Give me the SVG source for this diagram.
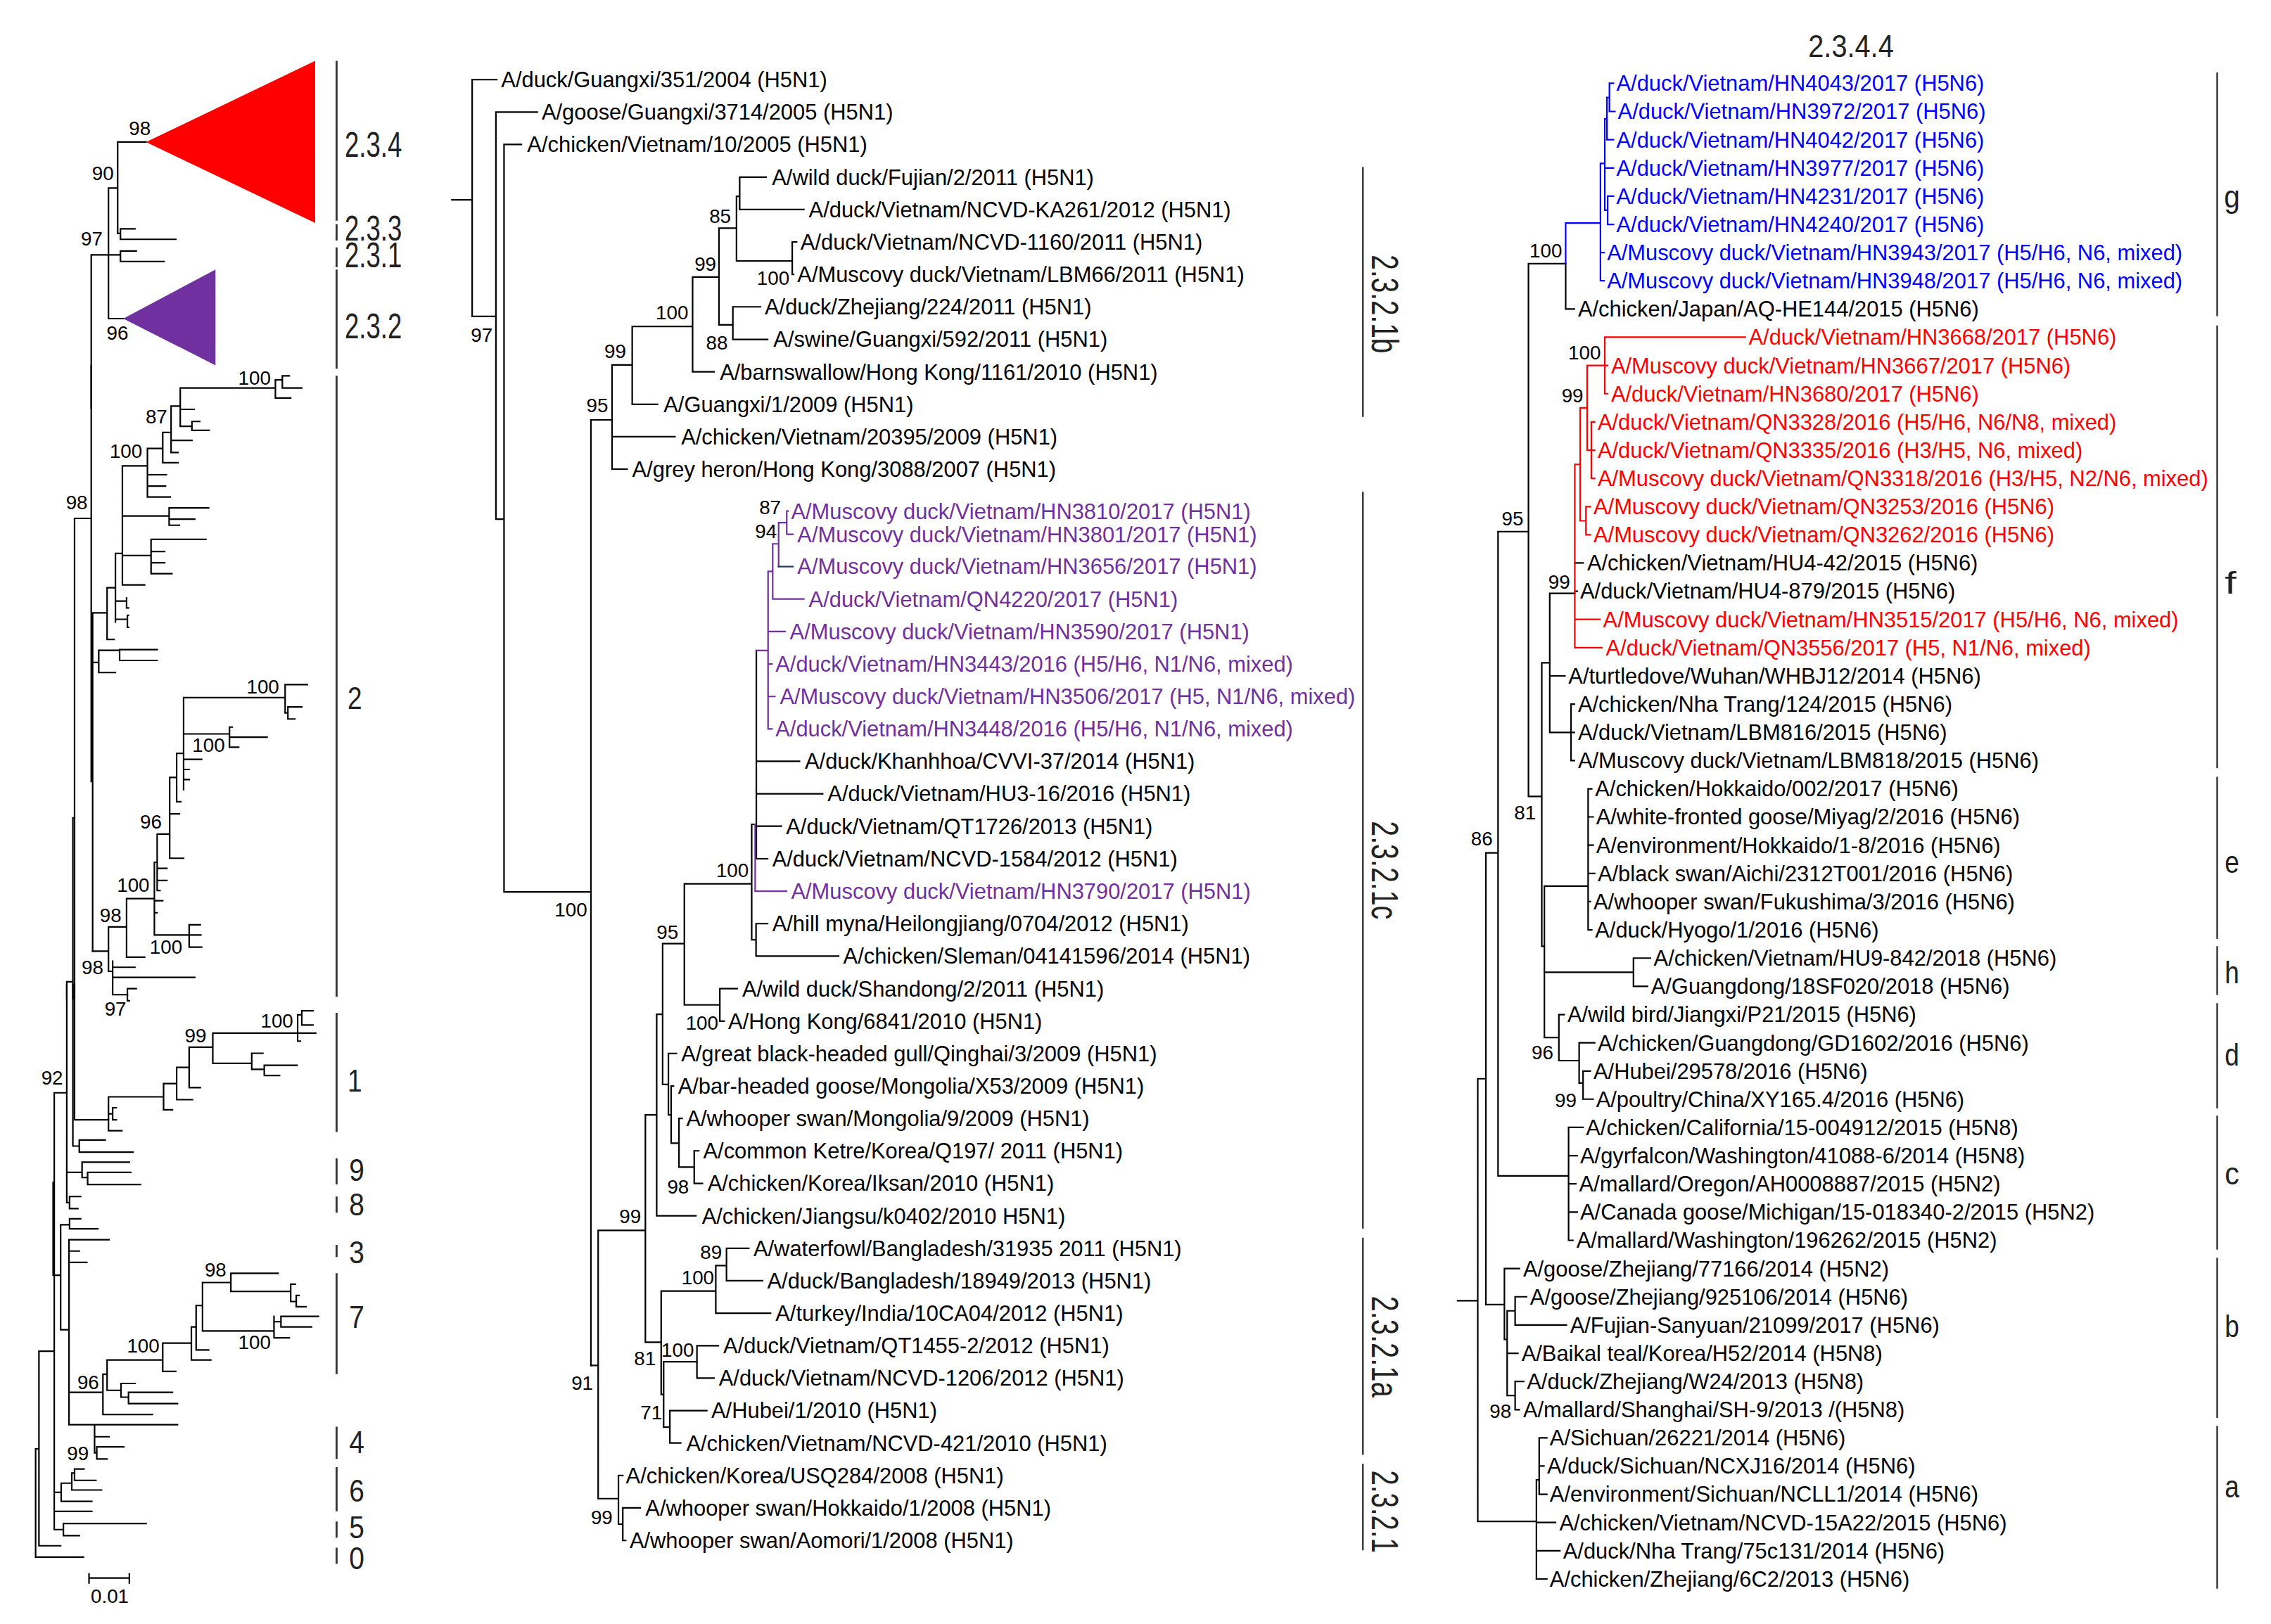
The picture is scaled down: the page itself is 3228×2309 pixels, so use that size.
<svg xmlns="http://www.w3.org/2000/svg" width="3228" height="2309" viewBox="0 0 3228 2309">
<style>
.ln{fill:none;stroke:#000;stroke-width:2.2;vector-effect:non-scaling-stroke;stroke-linecap:square}
.pu{stroke:#7030A0}.bl{stroke:#0000FF}.rd{stroke:#FF0000}.nv{stroke:#1F3864}
.bar{fill:none;stroke:#333;stroke-width:2.8;vector-effect:non-scaling-stroke}
.bar2{fill:none;stroke:#222;stroke-width:2.2;vector-effect:non-scaling-stroke}
text{font-family:"Liberation Sans",Arial,sans-serif;fill:#000}
.lf{font-size:15px}
.lp{fill:#7030A0}.lb{fill:#0000FF}.lr{fill:#FF0000}
.bs{font-size:13.5px;text-anchor:middle}
.cl{font-size:24px;fill:#222}
.cd{font-size:22px;fill:#222}
.cr{font-size:26px;text-anchor:middle;fill:#222}
.cc{font-size:22px;text-anchor:middle;fill:#222}
</style>
<rect width="3228" height="2309" fill="#fff"/>
<g transform="scale(2.0587)">
<g id="connectors">
<polygon points="100.8,98.1 217.6,42 217.6,154" fill="#FF0000"/>
<polygon points="85.1,220 148.8,186.2 148.8,252.3" fill="#7030A0"/>
<g transform="translate(0,29.14) scale(0.19206,0.1611)">
<path class="ln" d="M423 428H525M423 428V820M423 820H433M433 800V845M433 800H485M433 845H632M390 625H423M390 625V1185M328 912H390M390 912H433M433 895V940M433 895H490M433 940H590M390 1185H443M328 912V1568"/>
</g>
<g transform="translate(0,252.6) scale(0.19206,0.2788)">
<path class="ln" d="M328 0V1030M268 378H328M268 378V1568M333 612V1450M333 612H385M385 550V678M385 550H415M385 678H410M415 465V635M415 465H440M440 248V543M440 248H530M530 205V325M530 205H585M585 165V240M585 165H615M585 240H640M615 100V215M615 100H648M615 185H690M615 215H640M648 55V150M648 55H990M990 35V80M990 35H1015M1015 25V55M1015 25H1040M1015 55H1085M990 80H1045M648 108H698M648 150H690M690 138V160M690 138H718M690 160H752M530 270H598M530 298H595M530 325H612M440 372H608M608 352V395M608 352H750M608 380H700M608 395H645M440 470H543M543 430V515M543 430H740M543 460H592M543 488H592M543 515H618M440 543H520M415 583H455M455 575V600M455 600H462M415 628H458M458 618V648M458 618H462M458 648H462M333 735H355M355 705V760M355 705H430M430 703V730M430 703H565M430 730H565M355 760H415"/>
<path class="ln" d="M333 1450H390M390 1390V1500M390 1390H455M455 1320V1465M455 1465H520M455 1320H555M555 1230V1410M555 1230H565M555 1325H585M555 1355H565M555 1410H680M680 1385V1440M680 1385H720M680 1410H722M680 1440H725M565 1160V1300M565 1160H610M565 1245H600M565 1275H600M565 1300H575M610 1020V1220M610 1020H635M635 960V1080M635 960H660M635 1080H650M610 1110H645M610 1220H660M660 822V1050M660 822H1025M1025 790V860M1025 790H1105M1025 860H1035M1035 845V875M1035 845H1085M1035 875H1060M660 912H825M825 895V945M825 895H835M825 920H960M825 945H858M660 975H725M660 1000H680M660 1025H680M390 1500H405M405 1475V1558M405 1490H485M405 1515H700M405 1558H458M262 1120H268M262 1120V1568M240 1526H262M240 1526V1568"/>
</g>
<g transform="translate(0,680) scale(0.19206,0.2788)">
<path class="ln" d="M262 0V400M262 400H285M285 385V415M285 385H378M285 415H478M268 0V335M268 335H390M240 0V540M240 465H295M295 440V478M295 440H465M295 478H315M315 465V495M315 465H470M315 495H505M240 540H250M250 525V555M250 525H290M250 555H280M195 268H240M195 268V1350M191 490V720M195 720H218M218 595V855M218 595H250M250 580V605M250 580H290M250 605H352M218 855H248M248 632V1090M248 632H392M248 660H285M248 688H312M248 1010H370M370 965V1065M370 965H385M385 930V1005M385 930H585M585 888V958M585 958H632M585 888H688M688 848V930M688 930H758M688 848H705M705 795V905M705 905H750M705 795H728M728 738V858M728 738H830M830 715V760M830 715H1000M830 760H1045M1045 742V785M1045 742H1062M1045 785H1065M1065 770V798M1065 770H1075M1065 798H1100M728 858H985M985 822V875M985 835H1010M1010 822V848M1010 822H1145M1010 848H1120M985 875H1040M385 1005H435M435 988V1022M435 988H485M435 1022H462M462 1010V1038M462 1010H620M462 1038H638M370 1065H548M248 1090H340M340 1090V1160M340 1090H638M340 1120H392M340 1160H348M348 1145V1175M348 1145H445M348 1175H385M195 1258H220M220 1235V1280M220 1280H330M220 1235H258M258 1210V1252M258 1252H365M258 1210H268M268 1200V1228M268 1200H302M268 1228H345M195 1305H330M195 1350H228M228 1335V1365M228 1335H525M228 1365H285M140 908H195M140 908V1390M140 1390H218M128 1150H140M128 1150V1418M128 1418H300M458 10V40M458 10H490M458 40H465"/>
<path class="ln" d="M390 278V362M390 278H588M390 362H438M390 320H405M405 305V335M405 305H418M405 335H418M588 245V310M588 310H620M588 245H635M635 205V285M635 285H692M635 205H680M680 155V255M680 255H720M680 155H765M765 120V195M765 120H1070M1070 75V140M1070 75H1085M1085 65V100M1085 65H1125M1085 100H1125M1070 120H1135M1070 140H1080M765 195H905M905 170V210M905 170H945M905 210H950M950 200V225M950 200H1068M950 225H1005"/>
<path class="ln" d="M320 1470H465M320 1460V1482M465 1460V1482"/>
</g>
<path class="ln" d="M312 138H326M326 55V218.5M326 55H343M326 218.5H342.4M342.4 77.4V358.5M342.4 77.4H371M342.4 358.5H348M348 99.8V616M348 99.8H360M348 616H408M408 290V943M408 290H422.6M422.6 252V324M422.6 301.6H466M422.6 324H433M422.6 252H436.5M436.5 225.4V279.2M436.5 279.2H454M436.5 225.4H478.2M478.2 191.3V256.8M478.2 256.8H493M478.2 191.3H496.4M496.4 157.6V224.4M496.4 157.6H508.5M508.5 135.6V180.2M508.5 135.6H510.7M510.7 122.3V144.7M510.7 122.3H529M510.7 144.7H555M508.5 180.2H547M547 167.1V189.5M547 167.1H550M547 189.5H548M496.4 224.4H506M506 211.9V234.4M506 211.9H525M506 234.4H530"/>
<path class="ln" d="M408 943H413M413 849.7V1035M413 849.7H445.6M445.6 770V927M445.6 770H453.4M453.4 700.5V839.7M453.4 839.7H480.5M453.4 700.5H457.5M457.5 651.7V749M457.5 651.7H472.5M472.5 610.4V694M472.5 694H497M497 682.8V705.2M497 682.8H509M497 705.2H500M472.5 610.4H519M519 569.3V649M519 569.3H521.4M522.2 449.3V593.1M522.2 525.8H552M522.2 548.2H568M522.2 570.6H539.5M522.2 593.1H530M519 649H522M522 637.9V660.3M522 637.9H530M522 660.3H579M457.5 749H461.5M461.5 727.6V770M461.5 727.6H467M461.5 770H463.4M463.4 750V789.5M463.4 750H465M463.4 789.5H468.8M468.8 772.4V806M468.8 772.4H471M468.8 806H479.3M479.3 794.8V817.3M479.3 794.8H482.5M479.3 817.3H485M445.6 927H456.5M456.5 891.6V963M456.5 891.6H494.2M494.2 874V906.9M494.2 874H501.6M501.6 862.1V884.5M501.6 862.1H517M501.6 884.5H526.5M494.2 906.9H532M456.5 963H458.2M458.2 940.5V985.6M458.2 940.5H481.2M481.2 929.4V951.8M481.2 929.4H496M481.2 951.8H493M458.2 985.6H462.5M462.5 974.2V996.6M462.5 974.2H488M462.5 996.6H470M413 1035H427M427 1019V1052.6M427 1019H430M427 1052.6H430M430 1041.4V1063.9M430 1041.4H442M430 1063.9H432"/>
<path class="ln pu" d="M521.4 569.3V615.5M521.4 615.5H543M522.2 449.3H530.3M530.3 394.6V503.4M530.3 436.1H542M530.3 458.6H533M530.3 481H535M530.3 503.4H533M530.3 394.6H533.5M533.5 375.6V413.7M533.5 413.7H555M533.5 375.6H537.6M537.6 361V391.3M537.6 361H543.2M543.2 353V369M543.2 353H544M543.2 369H547.5"/>
<path class="ln nv" d="M537.6 391.3H547.5"/>
<path class="ln" d="M1055.3 182.1H1081M1081 182.1V213.4M1081 213.4H1087M1034.3 367.2H1055.3M1055.3 182.1V550M1087.3 408.3H1089M1087.3 388.8H1093M1070 409.8H1087.3M1070 409.8V505.8M1070 466.8H1080.5M1070 505.8H1084.7M1084.7 486.3V525.3M1084.7 486.3H1087M1084.7 505.8H1087M1084.7 525.3H1087M1064.5 457.8H1070M1064.5 457.8V653.5M1055.3 550H1064.5M1064.5 653.5H1066.3M1066.3 612V716.5M1066.3 612H1096.5M1096.5 544.8V642.2M1096.5 544.8H1099M1096.5 564.2H1100M1096.5 583.7H1100M1096.5 603.2H1101M1096.5 622.7H1098M1096.5 642.2H1099M1066.3 671.5H1127.8M1127.8 661.7V681.2M1127.8 661.7H1139.5M1127.8 681.2H1137.5M1066.3 716.5H1076.3M1076.3 700.7V732.5M1076.3 700.7H1080M1076.3 732.5H1090.3M1090.3 720.2V748M1090.3 720.2H1101M1090.3 748H1093M1093 739.7V759.1M1093 739.7H1098M1093 759.1H1100M1025.9 589H1034.3M1034.3 367.2V812.1M1034.3 812.1H1083M1083 778.6V856.6M1083 778.6H1093M1083 798.1H1089M1083 817.6H1088M1083 837.1H1089M1083 856.6H1086M1025.9 589V901M1020.3 745H1025.9M1020.3 745V1050.7M1006.4 898.3H1020.3M1025.9 901H1038.7M1038.7 876.1V925M1038.7 876.1H1049M1038.7 925H1040.6M1040.6 905.3V963.8M1040.6 905.3H1046.1M1046.1 895.6V915.1M1046.1 895.6H1054M1046.1 915.1H1081.5M1040.6 934.6H1048M1040.6 963.8H1046.1M1046.1 954.1V973.6M1046.1 954.1H1052M1046.1 973.6H1049M1020.3 1050.7H1060.8M1060.8 1022V1090.5M1060.8 1022H1062.7M1062.7 993V1032M1062.7 993H1068M1062.7 1012.5H1066M1062.7 1032H1068M1060.8 1051.5H1074M1060.8 1071H1077M1060.8 1090.5H1068"/>
<path class="ln bl" d="M1081 154V182.1M1081 154H1105M1105 112.9V193.9M1105 174.4H1107.5M1105 193.9H1107.5M1105 112.9H1108M1108 82V145.2M1108 116H1114M1108 145.2H1110M1110 135.5V155M1110 135.5H1114M1110 155H1114M1108 82H1109.5M1109.5 67.3V96.5M1109.5 96.5H1114M1109.5 67.3H1111.2M1111.2 57.5V77M1111.2 57.5H1114M1111.2 77H1115"/>
<path class="ln rd" d="M1108 232.9V271.9M1108 232.9H1205M1108 252.4H1110M1108 271.9H1110M1095.8 252.4H1108M1095.8 252.4V310.9M1095.8 310.9H1098.7M1098.7 291.4V330.4M1098.7 291.4H1101M1098.7 310.9H1101M1098.7 330.4H1101M1091 281.7H1095.8M1091 281.7V359.7M1091 359.7H1095M1095 349.9V369.3M1095 349.9H1098M1095 369.3H1098M1087.3 320.7H1091M1087.3 320.7V447.3M1087.3 427.8H1104.5M1087.3 447.3H1106"/>
</g>
<g id="clade-bars">
<path class="bar" d="M232.4 42V152.4M232.4 154.8V166.1M232.4 170.9V184.6M232.4 186.2V254.7M232.4 259.5V688.4M232.4 699.5V781.8M232.4 800V818M232.4 826.4V837.5M232.4 859.8V868.2M232.4 879.3V949M232.4 985.3V1007.6M232.4 1013.2V1043.8M232.4 1050.8V1062M232.4 1068.9V1080"/>
<path class="bar2" d="M941 115.4V287.9M941 339.7V848.5M941 854.8V1004.7M941 1011V1070.7"/>
<path class="bar2" d="M1530.8 50V218.3M1530.8 224.8V530.5M1530.8 536.5V648.5M1530.8 653.5V687.2M1530.8 692.8V765.5M1530.8 770.5V863M1530.8 868.6V979.2M1530.8 984.7V1097.2"/>
</g>
<g id="clade-labels">
<text class="cl" x="238" y="108.1" textLength="39.5" lengthAdjust="spacingAndGlyphs">2.3.4</text>
<text class="cl" x="238" y="166.1" textLength="39.5" lengthAdjust="spacingAndGlyphs">2.3.3</text>
<text class="cl" x="238" y="184.6" textLength="39.5" lengthAdjust="spacingAndGlyphs">2.3.1</text>
<text class="cl" x="238" y="233.7" textLength="39.5" lengthAdjust="spacingAndGlyphs">2.3.2</text>
<text class="cd" x="240" y="489.6" textLength="10" lengthAdjust="spacingAndGlyphs">2</text>
<text class="cd" x="240" y="754" textLength="10" lengthAdjust="spacingAndGlyphs">1</text>
<text class="cd" x="241" y="815.5" textLength="10.5" lengthAdjust="spacingAndGlyphs">9</text>
<text class="cd" x="241" y="839.5" textLength="10.5" lengthAdjust="spacingAndGlyphs">8</text>
<text class="cd" x="241" y="872.4" textLength="10.5" lengthAdjust="spacingAndGlyphs">3</text>
<text class="cd" x="241" y="917" textLength="10.5" lengthAdjust="spacingAndGlyphs">7</text>
<text class="cd" x="241" y="1003.4" textLength="10.5" lengthAdjust="spacingAndGlyphs">4</text>
<text class="cd" x="241" y="1036.9" textLength="10.5" lengthAdjust="spacingAndGlyphs">6</text>
<text class="cd" x="241" y="1062.5" textLength="10.5" lengthAdjust="spacingAndGlyphs">5</text>
<text class="cd" x="241" y="1083.5" textLength="10.5" lengthAdjust="spacingAndGlyphs">0</text>
<text class="cr" transform="translate(947.4,210) rotate(90)" textLength="68" lengthAdjust="spacingAndGlyphs">2.3.2.1b</text>
<text class="cr" transform="translate(947.4,601) rotate(90)" textLength="68" lengthAdjust="spacingAndGlyphs">2.3.2.1c</text>
<text class="cr" transform="translate(947.4,930) rotate(90)" textLength="70" lengthAdjust="spacingAndGlyphs">2.3.2.1a</text>
<text class="cr" transform="translate(947.4,1044) rotate(90)" textLength="57" lengthAdjust="spacingAndGlyphs">2.3.2.1</text>
<text class="cc" x="1278" y="39.5" textLength="59" lengthAdjust="spacingAndGlyphs">2.3.4.4</text>
<text class="cc" x="1541" y="143.4" textLength="11" lengthAdjust="spacingAndGlyphs">g</text>
<text class="cc" x="1540" y="409.8" textLength="8" lengthAdjust="spacingAndGlyphs">f</text>
<text class="cc" x="1541" y="603" textLength="10" lengthAdjust="spacingAndGlyphs">e</text>
<text class="cc" x="1541" y="679.3" textLength="10" lengthAdjust="spacingAndGlyphs">h</text>
<text class="cc" x="1541" y="736" textLength="10" lengthAdjust="spacingAndGlyphs">d</text>
<text class="cc" x="1541" y="818" textLength="10" lengthAdjust="spacingAndGlyphs">c</text>
<text class="cc" x="1541" y="923.4" textLength="10" lengthAdjust="spacingAndGlyphs">b</text>
<text class="cc" x="1541" y="1034" textLength="10" lengthAdjust="spacingAndGlyphs">a</text>
</g>
<g id="bootstrap">
<text class="bs" x="96.5" y="93.5">98</text>
<text class="bs" x="71" y="124.2">90</text>
<text class="bs" x="63.4" y="169.3">97</text>
<text class="bs" x="81.1" y="234.5">96</text>
<text class="bs" x="53" y="351.8">98</text>
<text class="bs" x="175.7" y="265.8">100</text>
<text class="bs" x="108" y="292.3">87</text>
<text class="bs" x="87" y="316">100</text>
<text class="bs" x="181.5" y="479.1">100</text>
<text class="bs" x="144" y="519.5">100</text>
<text class="bs" x="104.2" y="572.4">96</text>
<text class="bs" x="92" y="615.7">100</text>
<text class="bs" x="76.4" y="636.6">98</text>
<text class="bs" x="114.6" y="658.8">100</text>
<text class="bs" x="63.9" y="672.8">98</text>
<text class="bs" x="79.7" y="701.5">97</text>
<text class="bs" x="191.2" y="709.9">100</text>
<text class="bs" x="135" y="719.7">99</text>
<text class="bs" x="36" y="748.9">92</text>
<text class="bs" x="148.8" y="881.4">98</text>
<text class="bs" x="175.7" y="931.5">100</text>
<text class="bs" x="98.9" y="934.3">100</text>
<text class="bs" x="60.9" y="959.4">96</text>
<text class="bs" x="53.8" y="1008.2">99</text>
<text class="bs" x="75.8" y="1107.2">0.01</text>
<text class="bs" x="332.6" y="236.2">97</text>
<text class="bs" x="497.2" y="153.9">85</text>
<text class="bs" x="487" y="187">99</text>
<text class="bs" x="464" y="220.3">100</text>
<text class="bs" x="495" y="241.2">88</text>
<text class="bs" x="424.8" y="247.1">99</text>
<text class="bs" x="412.4" y="284.8">95</text>
<text class="bs" x="533.8" y="196.5">100</text>
<text class="bs" x="531.7" y="355.1">87</text>
<text class="bs" x="528.8" y="371.6">94</text>
<text class="bs" x="505.7" y="605.9">100</text>
<text class="bs" x="394.2" y="632.9">100</text>
<text class="bs" x="460.8" y="648.3">95</text>
<text class="bs" x="484.7" y="711.1">100</text>
<text class="bs" x="468.2" y="824.1">98</text>
<text class="bs" x="435.1" y="844.9">99</text>
<text class="bs" x="491" y="869.3">89</text>
<text class="bs" x="481.8" y="887.1">100</text>
<text class="bs" x="445.3" y="943">81</text>
<text class="bs" x="467.9" y="937.1">100</text>
<text class="bs" x="402" y="960">91</text>
<text class="bs" x="449.7" y="980.3">71</text>
<text class="bs" x="415.5" y="1052.7">99</text>
<text class="bs" x="1067.3" y="178">100</text>
<text class="bs" x="1094" y="248">100</text>
<text class="bs" x="1085.7" y="277.8">99</text>
<text class="bs" x="1044.3" y="363">95</text>
<text class="bs" x="1076.5" y="406.7">99</text>
<text class="bs" x="1053" y="566.1">81</text>
<text class="bs" x="1023.1" y="583.9">86</text>
<text class="bs" x="1065" y="731.7">96</text>
<text class="bs" x="1081" y="764.4">99</text>
<text class="bs" x="1036" y="979.3">98</text>
</g>
<g id="taxa-middle">
<g id="m01"><text class="lf" x="346" y="60.3">A/duck/Guangxi/351/2004 (H5N1)</text></g>
<g id="m02"><text class="lf" x="374" y="82.7">A/goose/Guangxi/3714/2005 (H5N1)</text></g>
<g id="m03"><text class="lf" x="364" y="105.1">A/chicken/Vietnam/10/2005 (H5N1)</text></g>
<g id="m04"><text class="lf" x="533" y="127.6">A/wild duck/Fujian/2/2011 (H5N1)</text></g>
<g id="m05"><text class="lf" x="558.4" y="150">A/duck/Vietnam/NCVD-KA261/2012 (H5N1)</text></g>
<g id="m06"><text class="lf" x="552.7" y="172.4">A/duck/Vietnam/NCVD-1160/2011 (H5N1)</text></g>
<g id="m07"><text class="lf" x="550.5" y="194.8">A/Muscovy duck/Vietnam/LBM66/2011 (H5N1)</text></g>
<g id="m08"><text class="lf" x="528" y="217.2">A/duck/Zhejiang/224/2011 (H5N1)</text></g>
<g id="m09"><text class="lf" x="534" y="239.7">A/swine/Guangxi/592/2011 (H5N1)</text></g>
<g id="m10"><text class="lf" x="497" y="262.1">A/barnswallow/Hong Kong/1161/2010 (H5N1)</text></g>
<g id="m11"><text class="lf" x="458.2" y="284.5">A/Guangxi/1/2009 (H5N1)</text></g>
<g id="m12"><text class="lf" x="470.3" y="306.9">A/chicken/Vietnam/20395/2009 (H5N1)</text></g>
<g id="m13"><text class="lf" x="436.5" y="329.3">A/grey heron/Hong Kong/3088/2007 (H5N1)</text></g>
<g id="m14"><text class="lf lp" x="546.2" y="358.3">A/Muscovy duck/Vietnam/HN3810/2017 (H5N1)</text></g>
<g id="m15"><text class="lf lp" x="550.5" y="374.3">A/Muscovy duck/Vietnam/HN3801/2017 (H5N1)</text></g>
<g id="m16"><text class="lf lp" x="550.5" y="396.6">A/Muscovy duck/Vietnam/HN3656/2017 (H5N1)</text></g>
<g id="m17"><text class="lf lp" x="558.4" y="419">A/duck/Vietnam/QN4220/2017 (H5N1)</text></g>
<g id="m18"><text class="lf lp" x="545.3" y="441.4">A/Muscovy duck/Vietnam/HN3590/2017 (H5N1)</text></g>
<g id="m19"><text class="lf lp" x="535.4" y="463.9">A/duck/Vietnam/HN3443/2016 (H5/H6, N1/N6, mixed)</text></g>
<g id="m20"><text class="lf lp" x="538.4" y="486.3">A/Muscovy duck/Vietnam/HN3506/2017 (H5, N1/N6, mixed)</text></g>
<g id="m21"><text class="lf lp" x="535.4" y="508.7">A/duck/Vietnam/HN3448/2016 (H5/H6, N1/N6, mixed)</text></g>
<g id="m22"><text class="lf" x="555.7" y="531.1">A/duck/Khanhhoa/CVVI-37/2014 (H5N1)</text></g>
<g id="m23"><text class="lf" x="571.4" y="553.5">A/duck/Vietnam/HU3-16/2016 (H5N1)</text></g>
<g id="m24"><text class="lf" x="542.7" y="575.9">A/duck/Vietnam/QT1726/2013 (H5N1)</text></g>
<g id="m25"><text class="lf" x="533.2" y="598.4">A/duck/Vietnam/NCVD-1584/2012 (H5N1)</text></g>
<g id="m26"><text class="lf lp" x="546.2" y="620.8">A/Muscovy duck/Vietnam/HN3790/2017 (H5N1)</text></g>
<g id="m27"><text class="lf" x="533.2" y="643.2">A/hill myna/Heilongjiang/0704/2012 (H5N1)</text></g>
<g id="m28"><text class="lf" x="582.2" y="665.6">A/chicken/Sleman/04141596/2014 (H5N1)</text></g>
<g id="m29"><text class="lf" x="512.4" y="688.1">A/wild duck/Shandong/2/2011 (H5N1)</text></g>
<g id="m30"><text class="lf" x="502.8" y="710.5">A/Hong Kong/6841/2010 (H5N1)</text></g>
<g id="m31"><text class="lf" x="470.3" y="732.9">A/great black-headed gull/Qinghai/3/2009 (H5N1)</text></g>
<g id="m32"><text class="lf" x="468.1" y="755.3">A/bar-headed goose/Mongolia/X53/2009 (H5N1)</text></g>
<g id="m33"><text class="lf" x="473.8" y="777.7">A/whooper swan/Mongolia/9/2009 (H5N1)</text></g>
<g id="m34"><text class="lf" x="485.5" y="800.1">A/common Ketre/Korea/Q197/ 2011 (H5N1)</text></g>
<g id="m35"><text class="lf" x="488.5" y="822.6">A/chicken/Korea/Iksan/2010 (H5N1)</text></g>
<g id="m36"><text class="lf" x="484.6" y="845">A/chicken/Jiangsu/k0402/2010 H5N1)</text></g>
<g id="m37"><text class="lf" x="520.2" y="867.4">A/waterfowl/Bangladesh/31935 2011 (H5N1)</text></g>
<g id="m38"><text class="lf" x="529.7" y="889.8">A/duck/Bangladesh/18949/2013 (H5N1)</text></g>
<g id="m39"><text class="lf" x="535.4" y="912.2">A/turkey/India/10CA04/2012 (H5N1)</text></g>
<g id="m40"><text class="lf" x="499.4" y="934.7">A/duck/Vietnam/QT1455-2/2012 (H5N1)</text></g>
<g id="m41"><text class="lf" x="496.3" y="957.1">A/duck/Vietnam/NCVD-1206/2012 (H5N1)</text></g>
<g id="m42"><text class="lf" x="491.1" y="979.5">A/Hubei/1/2010 (H5N1)</text></g>
<g id="m43"><text class="lf" x="473.8" y="1001.9">A/chicken/Vietnam/NCVD-421/2010 (H5N1)</text></g>
<g id="m44"><text class="lf" x="432.1" y="1024.3">A/chicken/Korea/USQ284/2008 (H5N1)</text></g>
<g id="m45"><text class="lf" x="445.6" y="1046.7">A/whooper swan/Hokkaido/1/2008 (H5N1)</text></g>
<g id="m46"><text class="lf" x="434.7" y="1069.2">A/whooper swan/Aomori/1/2008 (H5N1)</text></g>
</g>
<g id="taxa-right">
<g id="r00"><text class="lf lb" x="1116" y="62.8">A/duck/Vietnam/HN4043/2017 (H5N6)</text></g>
<g id="r01"><text class="lf lb" x="1117" y="82.3">A/duck/Vietnam/HN3972/2017 (H5N6)</text></g>
<g id="r02"><text class="lf lb" x="1116" y="101.8">A/duck/Vietnam/HN4042/2017 (H5N6)</text></g>
<g id="r03"><text class="lf lb" x="1116" y="121.3">A/duck/Vietnam/HN3977/2017 (H5N6)</text></g>
<g id="r04"><text class="lf lb" x="1116" y="140.8">A/duck/Vietnam/HN4231/2017 (H5N6)</text></g>
<g id="r05"><text class="lf lb" x="1116" y="160.3">A/duck/Vietnam/HN4240/2017 (H5N6)</text></g>
<g id="r06"><text class="lf lb" x="1109.5" y="179.7">A/Muscovy duck/Vietnam/HN3943/2017 (H5/H6, N6, mixed)</text></g>
<g id="r07"><text class="lf lb" x="1109.5" y="199.2">A/Muscovy duck/Vietnam/HN3948/2017 (H5/H6, N6, mixed)</text></g>
<g id="r08"><text class="lf" x="1089.5" y="218.7">A/chicken/Japan/AQ-HE144/2015 (H5N6)</text></g>
<g id="r09"><text class="lf lr" x="1207.3" y="238.2">A/duck/Vietnam/HN3668/2017 (H5N6)</text></g>
<g id="r10"><text class="lf lr" x="1112.3" y="257.7">A/Muscovy duck/Vietnam/HN3667/2017 (H5N6)</text></g>
<g id="r11"><text class="lf lr" x="1112.3" y="277.2">A/duck/Vietnam/HN3680/2017 (H5N6)</text></g>
<g id="r12"><text class="lf lr" x="1103.1" y="296.7">A/duck/Vietnam/QN3328/2016 (H5/H6, N6/N8, mixed)</text></g>
<g id="r13"><text class="lf lr" x="1103.1" y="316.2">A/duck/Vietnam/QN3335/2016 (H3/H5, N6, mixed)</text></g>
<g id="r14"><text class="lf lr" x="1103.1" y="335.7">A/Muscovy duck/Vietnam/QN3318/2016 (H3/H5, N2/N6, mixed)</text></g>
<g id="r15"><text class="lf lr" x="1100.2" y="355.2">A/Muscovy duck/Vietnam/QN3253/2016 (H5N6)</text></g>
<g id="r16"><text class="lf lr" x="1100.2" y="374.6">A/Muscovy duck/Vietnam/QN3262/2016 (H5N6)</text></g>
<g id="r17"><text class="lf" x="1095.8" y="394.1">A/chicken/Vietnam/HU4-42/2015 (H5N6)</text></g>
<g id="r18"><text class="lf" x="1091" y="413.6">A/duck/Vietnam/HU4-879/2015 (H5N6)</text></g>
<g id="r19"><text class="lf lr" x="1106.8" y="433.1">A/Muscovy duck/Vietnam/HN3515/2017 (H5/H6, N6, mixed)</text></g>
<g id="r20"><text class="lf lr" x="1108.7" y="452.6">A/duck/Vietnam/QN3556/2017 (H5, N1/N6, mixed)</text></g>
<g id="r21"><text class="lf" x="1082.9" y="472.1">A/turtledove/Wuhan/WHBJ12/2014 (H5N6)</text></g>
<g id="r22"><text class="lf" x="1089.5" y="491.6">A/chicken/Nha Trang/124/2015 (H5N6)</text></g>
<g id="r23"><text class="lf" x="1089.5" y="511.1">A/duck/Vietnam/LBM816/2015 (H5N6)</text></g>
<g id="r24"><text class="lf" x="1089.5" y="530.6">A/Muscovy duck/Vietnam/LBM818/2015 (H5N6)</text></g>
<g id="r25"><text class="lf" x="1101.3" y="550.1">A/chicken/Hokkaido/002/2017 (H5N6)</text></g>
<g id="r26"><text class="lf" x="1102" y="569.5">A/white-fronted goose/Miyag/2/2016 (H5N6)</text></g>
<g id="r27"><text class="lf" x="1102" y="589">A/environment/Hokkaido/1-8/2016 (H5N6)</text></g>
<g id="r28"><text class="lf" x="1103.1" y="608.5">A/black swan/Aichi/2312T001/2016 (H5N6)</text></g>
<g id="r29"><text class="lf" x="1100.2" y="628">A/whooper swan/Fukushima/3/2016 (H5N6)</text></g>
<g id="r30"><text class="lf" x="1101.3" y="647.5">A/duck/Hyogo/1/2016 (H5N6)</text></g>
<g id="r31"><text class="lf" x="1141.8" y="667">A/chicken/Vietnam/HU9-842/2018 (H5N6)</text></g>
<g id="r32"><text class="lf" x="1139.9" y="686.5">A/Guangdong/18SF020/2018 (H5N6)</text></g>
<g id="r33"><text class="lf" x="1082.2" y="706">A/wild bird/Jiangxi/P21/2015 (H5N6)</text></g>
<g id="r34"><text class="lf" x="1103.1" y="725.5">A/chicken/Guangdong/GD1602/2016 (H5N6)</text></g>
<g id="r35"><text class="lf" x="1100.2" y="745">A/Hubei/29578/2016 (H5N6)</text></g>
<g id="r36"><text class="lf" x="1102" y="764.4">A/poultry/China/XY165.4/2016 (H5N6)</text></g>
<g id="r37"><text class="lf" x="1095" y="783.9">A/chicken/California/15-004912/2015 (H5N8)</text></g>
<g id="r38"><text class="lf" x="1091" y="803.4">A/gyrfalcon/Washington/41088-6/2014 (H5N8)</text></g>
<g id="r39"><text class="lf" x="1090.3" y="822.9">A/mallard/Oregon/AH0008887/2015 (H5N2)</text></g>
<g id="r40"><text class="lf" x="1091" y="842.4">A/Canada goose/Michigan/15-018340-2/2015 (H5N2)</text></g>
<g id="r41"><text class="lf" x="1088.4" y="861.9">A/mallard/Washington/196262/2015 (H5N2)</text></g>
<g id="r42"><text class="lf" x="1051.6" y="881.4">A/goose/Zhejiang/77166/2014 (H5N2)</text></g>
<g id="r43"><text class="lf" x="1056.4" y="900.9">A/goose/Zhejiang/925106/2014 (H5N6)</text></g>
<g id="r44"><text class="lf" x="1084" y="920.4">A/Fujian-Sanyuan/21099/2017 (H5N6)</text></g>
<g id="r45"><text class="lf" x="1050.5" y="939.9">A/Baikal teal/Korea/H52/2014 (H5N8)</text></g>
<g id="r46"><text class="lf" x="1054.2" y="959.4">A/duck/Zhejiang/W24/2013 (H5N8)</text></g>
<g id="r47"><text class="lf" x="1051.6" y="978.9">A/mallard/Shanghai/SH-9/2013 /(H5N8)</text></g>
<g id="r48"><text class="lf" x="1070" y="998.3">A/Sichuan/26221/2014 (H5N6)</text></g>
<g id="r49"><text class="lf" x="1068.2" y="1017.8">A/duck/Sichuan/NCXJ16/2014 (H5N6)</text></g>
<g id="r50"><text class="lf" x="1070" y="1037.3">A/environment/Sichuan/NCLL1/2014 (H5N6)</text></g>
<g id="r51"><text class="lf" x="1076.6" y="1056.8">A/chicken/Vietnam/NCVD-15A22/2015 (H5N6)</text></g>
<g id="r52"><text class="lf" x="1079.2" y="1076.3">A/duck/Nha Trang/75c131/2014 (H5N6)</text></g>
<g id="r53"><text class="lf" x="1070" y="1095.8">A/chicken/Zhejiang/6C2/2013 (H5N6)</text></g>
</g>
</g>
</svg>
